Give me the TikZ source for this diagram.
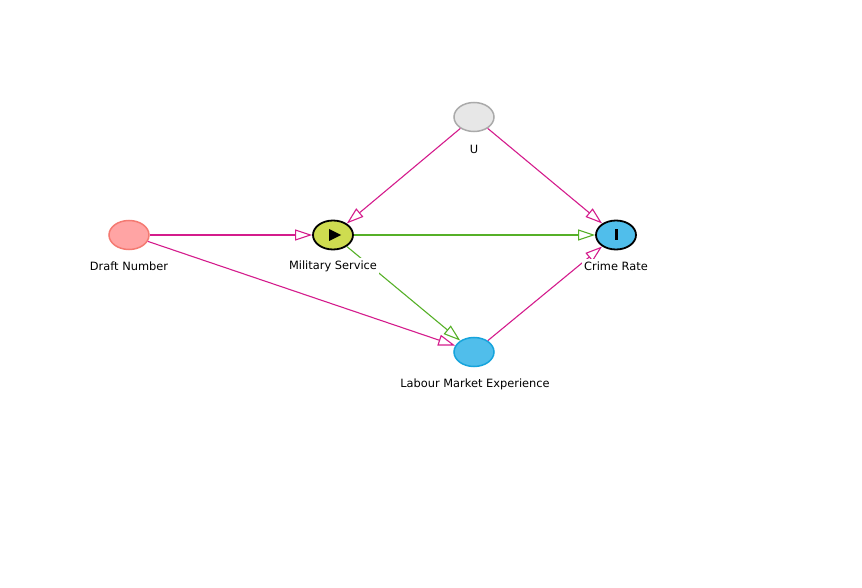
\documentclass[tikz,border=0pt]{standalone}
\usepackage{fontspec}
\setmainfont{DejaVu Sans}
\usetikzlibrary{arrows.meta,shapes.geometric}
\definecolor{biascol}{RGB}{212,28,140}
\definecolor{causalcol}{RGB}{86,176,40}
\definecolor{ancfill}{RGB}{255,164,164}
\definecolor{ancdraw}{RGB}{244,122,114}
\definecolor{expfill}{RGB}{206,220,80}
\definecolor{outfill}{RGB}{80,190,235}
\definecolor{outdraw}{RGB}{22,164,220}
\definecolor{latfill}{RGB}{231,231,231}
\definecolor{latdraw}{RGB}{170,170,170}
\begin{document}
\begin{tikzpicture}[x=1pt,y=-1pt,
  var/.style={ellipse, minimum width=40pt, minimum height=29pt, inner sep=0pt, line width=1.5pt},
  lbl/.style={fill=white, inner sep=2.5pt, font=\fontsize{11.4}{13}\selectfont},
  edgebase/.style={line width=1.1pt, -{Triangle[open, length=17pt, width=11pt, line width=1.1pt]}},
  biasing/.style={edgebase, draw=biascol},
  causal/.style={edgebase, draw=causalcol}]
\useasboundingbox (0,0) rectangle (862,588);

% variables
\node[var, fill=ancfill, draw=ancdraw] (draft) at (129,235) {};
\node[var, fill=expfill, draw=black, line width=1.8pt] (mil) at (333,235) {};
\node[var, fill=latfill, draw=latdraw] (u) at (474,117) {};
\node[var, fill=outfill, draw=black, line width=1.8pt] (crime) at (616,235) {};
\node[var, fill=outfill, draw=outdraw] (lab) at (474,352) {};

% edges
\draw[biasing] (draft) -- (mil);
\draw[biasing] (draft) -- (lab);
\draw[biasing] (u) -- (mil);
\draw[biasing] (u) -- (crime);
\draw[causal] (mil) -- (crime);
\draw[causal] (mil) -- (lab);
\draw[biasing] (lab) -- (crime);

% exposure and outcome markers
\fill[black] (329,229) -- (341,235) -- (329,241) -- cycle;
\fill[black] (614.5,229) rectangle (617.5,240);

% labels
\node[lbl] (draftlbl) at (129,266) {Draft Number};
\node[lbl] (millbl) at (333,266) {Military Service};
\node[lbl] (ulbl) at (474,149) {U};
\node[lbl] (crimelbl) at (616,266) {Crime Rate};
\node[lbl] (lablbl) at (475,384) {Labour Market Experience};
\end{tikzpicture}
\end{document}
